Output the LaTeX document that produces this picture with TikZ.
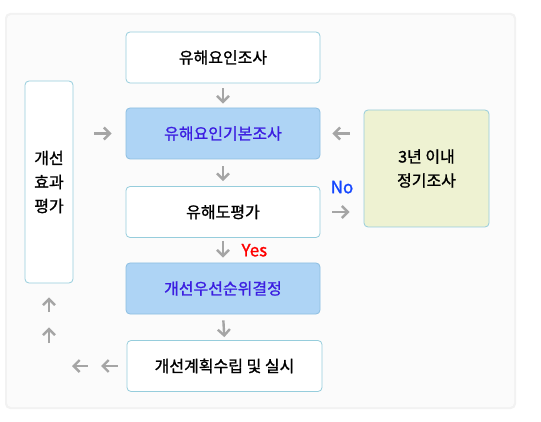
\documentclass[tikz,border=0pt]{standalone}
\usepackage{fontspec}
\setmainfont{Noto Sans CJK KR}[FakeBold=1.2]
\usetikzlibrary{arrows.meta,positioning,calc}
\definecolor{bordure}{RGB}{150,205,220}
\definecolor{bleuclair}{RGB}{174,212,245}
\definecolor{bordbleu}{RGB}{140,190,225}
\definecolor{indigo}{RGB}{60,30,225}
\definecolor{olivepale}{RGB}{238,242,210}
\definecolor{grisfleche}{RGB}{165,165,165}
\definecolor{nobleu}{RGB}{20,70,255}
\begin{document}
\begin{tikzpicture}[x=1pt,y=-1pt,
	every node/.style={font=\fontsize{16}{24}\selectfont},
	boite/.style={draw=bordure,line width=0.8pt,rounded corners=4pt,fill=white,
		minimum width=194pt,minimum height=51pt,inner sep=0pt},
	boitebleue/.style={boite,draw=bordbleu,fill=bleuclair,text=indigo},
	fleche/.style={grisfleche,line width=2.4pt,
		-{Straight Barb[length=6pt,width=12pt,line width=2.4pt]}}]
	\useasboundingbox (0,0) rectangle (541,422);
	% fond
	\fill[gray!10,rounded corners=5pt] (5,13) rectangle (516,409);
	\fill[gray!3,rounded corners=4pt] (7,15) rectangle (514,407);
	% etapes
	\node[boite] (enquete) at (223,57.5) {유해요인조사};
	\node[boitebleue] (base) at (223,133.5) {유해요인기본조사};
	\node[boite] (eval) at (223,212) {유해도평가};
	\node[boitebleue] (priorite) at (223,288.5) {개선우선순위결정};
	\node[boite,minimum width=195pt] (plan) at (224.5,366) {개선계획수립 및 실시};
	\node[boite,minimum width=48pt,minimum height=202pt,align=center] (effet) at (49,182) {개선\\효과\\평가};
	\node[boite,fill=olivepale,minimum width=125pt,minimum height=117pt,align=center] (periode) at (426.5,168.5) {3년 이내\\정기조사};
	\coordinate (coin) at (effet.south |- plan);
	% fleches
	\draw[fleche,shorten <=5pt,shorten >=4pt] (enquete.south) -- (base.north);
	\draw[fleche,shorten <=7pt,shorten >=5pt] (base.south) -- (eval.north);
	\draw[fleche,shorten <=3pt,shorten >=5pt] (eval.south) -- (priorite.north)
		node[midway,right=14pt,text=red,font=\fontsize{17}{20}\selectfont]{Yes};
	\draw[fleche,shorten <=6pt,shorten >=3pt] (priorite.south) -- (plan.north);
	\draw[fleche,shorten <=21pt,shorten >=14pt] (effet.east |- base) -- (base.west);
	\draw[fleche,shorten <=14pt,shorten >=12pt] (periode.west |- base) -- (base.east);
	\draw[fleche,shorten <=12pt,shorten >=14pt] (eval.east) -- (periode.west |- eval)
		node[midway,above=14pt,text=nobleu,font=\fontsize{17}{20}\selectfont]{No};
	\draw[fleche,shorten <=9pt,shorten >=52pt] (plan.west) -- (coin);
	\draw[fleche,shorten <=39pt,shorten >=23pt] (plan.west) -- (coin);
	\draw[fleche,shorten <=23pt,shorten >=44pt] (coin) -- (effet.south);
	\draw[fleche,shorten <=54pt,shorten >=14pt] (coin) -- (effet.south);
\end{tikzpicture}
\end{document}
